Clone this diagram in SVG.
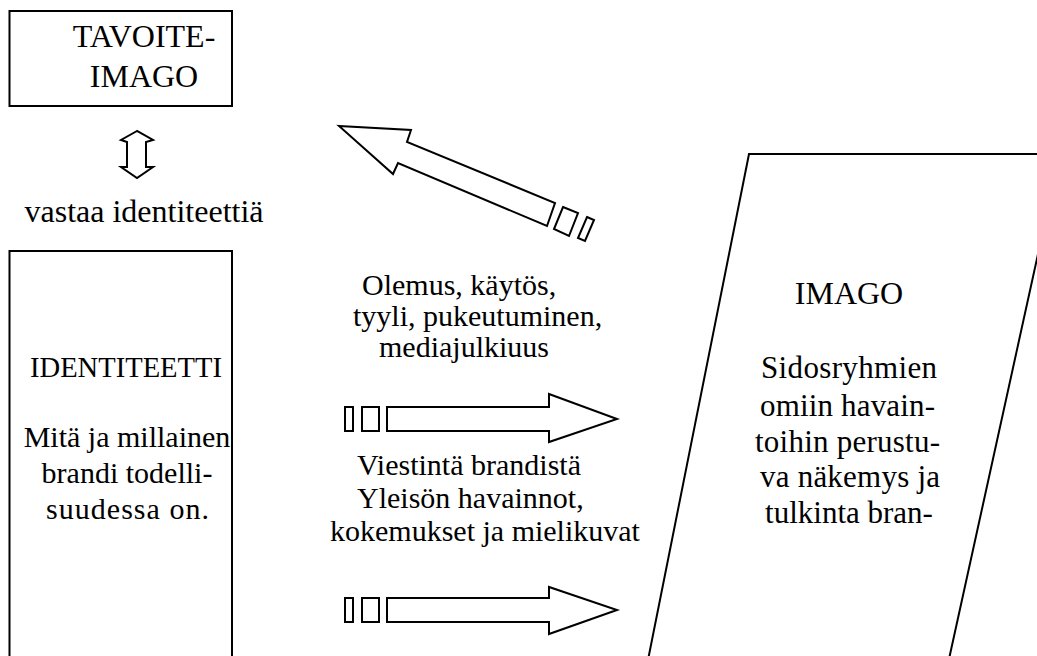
<svg xmlns="http://www.w3.org/2000/svg" width="1037" height="656" viewBox="0 0 1037 656">
<style>
.sh{fill:#fff;stroke:#000;stroke-width:2;stroke-linejoin:miter}
text{font-family:'Liberation Serif','Times New Roman',serif;font-size:30px;fill:#000}
.c{text-anchor:middle}
.b{font-size:32px}
.r{font-size:31px}
</style>
<rect width="1037" height="656" fill="#fff"/>
<g id="tavoite">
<rect class="sh" x="9.5" y="11" width="222.5" height="95"/>
<text class="c b" x="144" y="47">TAVOITE-</text>
<text class="c b" x="144" y="87">IMAGO</text>
</g>
<g id="vastaa">
<polygon class="sh" points="137,131 121,140 127,142 127,167 121,167 137,178 153,167 146,167 146,142 153,140"/>
<text class="c b" x="144" y="222">vastaa identiteettiä</text>
</g>
<g id="identiteetti">
<rect class="sh" x="9.5" y="251" width="222.5" height="430"/>
<text x="30" y="377" textLength="192" lengthAdjust="spacingAndGlyphs">IDENTITEETTI</text>
<text class="c" x="127" y="447">Mitä ja millainen</text>
<text class="c" x="127" y="483">brandi todelli-</text>
<text x="46" y="519" textLength="163" lengthAdjust="spacing">suudessa on.</text>
</g>
<g id="imago">
<polygon class="sh" points="749,154 1060,154 940,700 640,700"/>
<text class="c b" x="849" y="304">IMAGO</text>
<text class="r" x="761" y="378" textLength="176" lengthAdjust="spacing">Sidosryhmien</text>
<text class="r" x="760" y="416" textLength="175" lengthAdjust="spacing">omiin havain-</text>
<text class="r" x="755" y="452" textLength="185" lengthAdjust="spacing">toihin perustu-</text>
<text class="r" x="760" y="487" textLength="180" lengthAdjust="spacing">va näkemys ja</text>
<text class="c r" x="849" y="523">tulkinta bran-</text>
</g>
<g id="labels">
<text x="362" y="295">Olemus, käytös,</text>
<text x="353" y="326">tyyli, pukeutuminen,</text>
<text x="379" y="357">mediajulkiuus</text>
<text x="357" y="475">Viestintä brandistä</text>
<text x="357" y="508">Yleisön havainnot,</text>
<text x="330" y="541">kokemukset ja mielikuvat</text>
</g>
<g id="connectors">
<polygon class="sh" points="339,126 411,130 407,142 555,203 547,226 398,163 393,174"/>
<polygon class="sh" points="563,207 578,213 569,236 554,229"/>
<polygon class="sh" points="587,217 594,220 585,241 578,238"/>
<rect class="sh" x="345" y="407" width="8" height="24"/>
<rect class="sh" x="362" y="407" width="17" height="24"/>
<polygon class="sh" points="387,407 549,407 549,394 617,419 549,442 549,431 387,431"/>
<rect class="sh" x="345" y="598" width="8" height="24"/>
<rect class="sh" x="362" y="598" width="17" height="24"/>
<polygon class="sh" points="387,598 549,598 549,587 617,610 549,634 549,622 387,622"/>
</g>
</svg>
